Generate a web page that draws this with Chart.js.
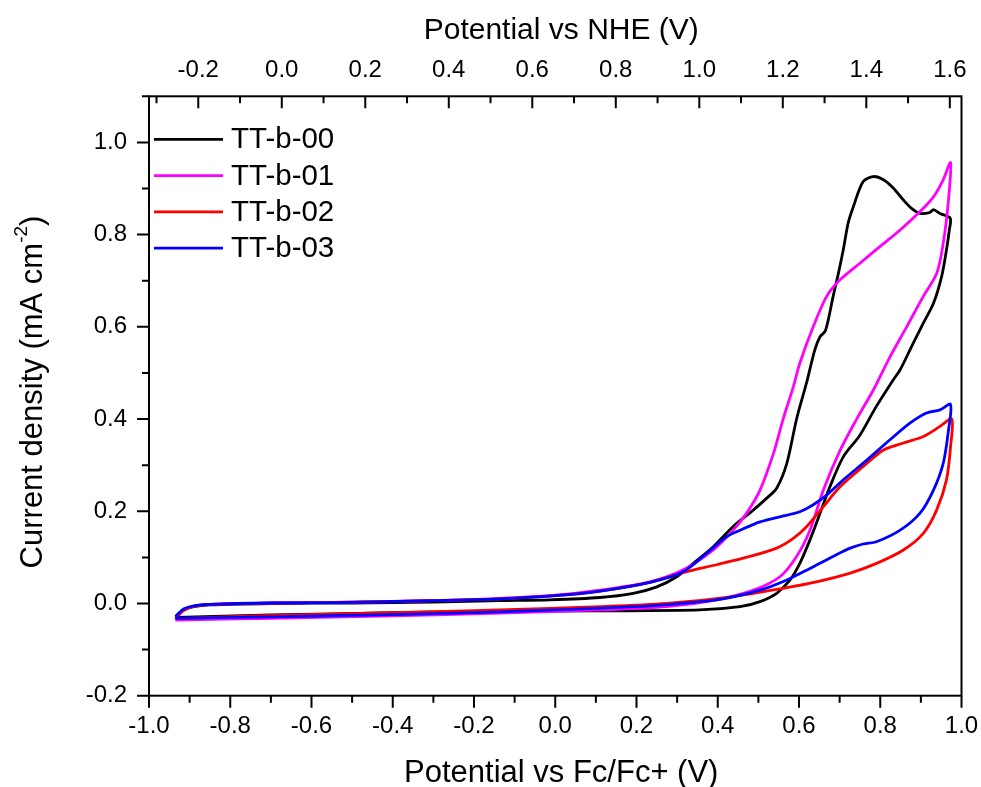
<!DOCTYPE html>
<html>
<head>
<meta charset="utf-8">
<title>Cyclic voltammograms TT-b</title>
<script src="https://cdn.jsdelivr.net/npm/chart.js@4.4.1/dist/chart.umd.min.js"></script>
<style>
  html, body { margin: 0; padding: 0; background: #fff; }
  #cv { display: block; }
</style>
</head>
<body>
<canvas id="cv" width="981" height="787"></canvas>
<script>
/* CV loops of the TT-b films: current density vs potential, two potential scales */
const FONT = '"Liberation Sans", Arial, sans-serif';

const seriesNames = ['TT-b-00', 'TT-b-01', 'TT-b-02', 'TT-b-03'];
const seriesColors = ['#000000', '#ff00ff', '#ff0000', '#0000ff'];

// potential (V vs Fc/Fc+) and current density (mA cm-2), loop runs left -> right tip -> back
const tt00V = [-0.932, -0.915, -0.89, -0.85, -0.70, -0.50, -0.30, -0.136, -0.013, 0.110, 0.192, 0.250, 0.299, 0.340, 0.389, 0.438, 0.488, 0.520, 0.545, 0.570, 0.594, 0.619, 0.639, 0.652, 0.664, 0.672, 0.684, 0.697, 0.709, 0.721, 0.734, 0.758, 0.783, 0.808, 0.832, 0.857, 0.877, 0.898, 0.922, 0.931, 0.947, 0.972,
  0.970, 0.963, 0.951, 0.931, 0.906, 0.877, 0.849, 0.832, 0.790, 0.750, 0.709, 0.676, 0.652, 0.627, 0.602, 0.578, 0.545, 0.504, 0.455, 0.356, 0.110, -0.136, -0.40, -0.70, -0.932];
const tt00J = [-0.030, -0.015, -0.007, -0.003, 0.000, 0.001, 0.003, 0.006, 0.008, 0.013, 0.022, 0.036, 0.058, 0.087, 0.123, 0.167, 0.203, 0.228, 0.250, 0.304, 0.400, 0.480, 0.550, 0.579, 0.590, 0.615, 0.666, 0.716, 0.767, 0.825, 0.861, 0.915, 0.926, 0.919, 0.901, 0.875, 0.857, 0.846, 0.848, 0.854, 0.846, 0.836,
  0.810, 0.767, 0.709, 0.651, 0.608, 0.557, 0.507, 0.485, 0.427, 0.365, 0.318, 0.253, 0.196, 0.138, 0.087, 0.051, 0.022, 0.004, -0.007, -0.014, -0.016, -0.017, -0.020, -0.025, -0.030];

const tt01V = [-0.935, -0.915, -0.89, -0.85, -0.70, -0.50, -0.30, -0.136, 0.000, 0.110, 0.233, 0.315, 0.389, 0.438, 0.471, 0.504, 0.537, 0.561, 0.586, 0.602, 0.635, 0.668, 0.701, 0.750, 0.799, 0.849, 0.898, 0.931, 0.955, 0.973,
  0.968, 0.955, 0.939, 0.906, 0.865, 0.824, 0.783, 0.742, 0.700, 0.660, 0.627, 0.594, 0.553, 0.488, 0.397, 0.274, 0.110, -0.136, -0.40, -0.70, -0.935];
const tt01J = [-0.032, -0.015, -0.006, -0.002, 0.001, 0.003, 0.006, 0.011, 0.018, 0.029, 0.047, 0.073, 0.116, 0.159, 0.196, 0.246, 0.325, 0.400, 0.470, 0.521, 0.600, 0.666, 0.702, 0.738, 0.774, 0.810, 0.850, 0.882, 0.919, 0.956,
  0.875, 0.781, 0.716, 0.666, 0.600, 0.535, 0.463, 0.400, 0.330, 0.246, 0.159, 0.102, 0.058, 0.029, 0.008, -0.007, -0.014, -0.021, -0.027, -0.032, -0.036];

const tt02V = [-0.935, -0.915, -0.89, -0.85, -0.70, -0.50, -0.30, -0.136, 0.000, 0.110, 0.233, 0.324, 0.397, 0.479, 0.545, 0.586, 0.619, 0.660, 0.701, 0.758, 0.808, 0.857, 0.906, 0.947, 0.976,
  0.973, 0.963, 0.939, 0.906, 0.857, 0.791, 0.726, 0.643, 0.561, 0.438, 0.274, 0.110, -0.136, -0.40, -0.70, -0.935];
const tt02J = [-0.032, -0.015, -0.006, -0.002, 0.001, 0.003, 0.006, 0.010, 0.017, 0.027, 0.046, 0.069, 0.084, 0.102, 0.120, 0.141, 0.167, 0.210, 0.253, 0.297, 0.333, 0.348, 0.362, 0.384, 0.400,
  0.340, 0.268, 0.203, 0.152, 0.116, 0.087, 0.066, 0.047, 0.033, 0.015, 0.000, -0.007, -0.014, -0.020, -0.026, -0.033];

const tt03V = [-0.935, -0.915, -0.89, -0.85, -0.70, -0.54, -0.30, -0.136, 0.000, 0.110, 0.233, 0.315, 0.373, 0.422, 0.455, 0.504, 0.553, 0.602, 0.635, 0.668, 0.709, 0.767, 0.824, 0.873, 0.914, 0.947, 0.973,
  0.968, 0.955, 0.931, 0.898, 0.849, 0.791, 0.758, 0.726, 0.684, 0.627, 0.570, 0.504, 0.397, 0.192, -0.136, -0.40, -0.70, -0.935];
const tt03J = [-0.028, -0.012, -0.005, -0.002, 0.001, 0.002, 0.006, 0.010, 0.017, 0.027, 0.046, 0.069, 0.109, 0.145, 0.159, 0.177, 0.188, 0.199, 0.214, 0.235, 0.268, 0.311, 0.355, 0.391, 0.413, 0.420, 0.432,
  0.376, 0.304, 0.246, 0.196, 0.159, 0.134, 0.129, 0.120, 0.102, 0.076, 0.051, 0.029, 0.008, -0.007, -0.018, -0.024, -0.029, -0.032];

// labelled ticks; minor ticks go halfway between
const fcTicks = [-1.0, -0.8, -0.6, -0.4, -0.2, 0.0, 0.2, 0.4, 0.6, 0.8, 1.0];
const nheTicks = [-0.2, 0.0, 0.2, 0.4, 0.6, 0.8, 1.0, 1.2, 1.4, 1.6];
const jTicks = [-0.2, 0.0, 0.2, 0.4, 0.6, 0.8, 1.0];
// NHE values at the left/right plot edges
const nheMin = -0.318;
const nheMax = 1.628;

const loops = [[tt00V, tt00J], [tt01V, tt01J], [tt02V, tt02J], [tt03V, tt03J]];

function withMinors(majors, min, max) {
  const step = majors[1] - majors[0];
  const out = [];
  const first = majors[0] - step / 2;
  if (first >= min - 1e-9) out.push({ value: first, minor: true });
  majors.forEach((v, i) => {
    out.push({ value: v });
    const mid = v + step / 2;
    if (i < majors.length - 1 || mid <= max + 1e-9) out.push({ value: mid, minor: true });
  });
  return out;
}

const tickLabel = (v, i, ticks) => (ticks[i].minor ? '' : v.toFixed(1));
const tickFont = { family: FONT, size: 24, lineHeight: 1 };
const noGrid = { display: false, drawTicks: false };

// fixed axis box sizes, no extra room for overhanging labels
const fitX = h => s => { s.height = h; s.paddingLeft = 0; s.paddingRight = 0; };
const fitY = w => s => { s.width = w; s.paddingTop = 0; s.paddingBottom = 0; };

const frameTicks = {
  id: 'frameTicks',
  afterDatasetsDraw(chart) {
    const { ctx, chartArea: a, scales } = chart;
    ctx.save();
    ctx.strokeStyle = '#000';
    ctx.lineWidth = 2;
    ctx.strokeRect(a.left, a.top, a.right - a.left, a.bottom - a.top);

    ctx.beginPath();
    scales.x.ticks.forEach(t => {
      const px = scales.x.getPixelForValue(t.value);
      ctx.moveTo(px, a.bottom);
      ctx.lineTo(px, a.bottom + (t.minor ? 7 : 12));
    });
    scales.x2.ticks.forEach(t => {
      const px = scales.x2.getPixelForValue(t.value);
      ctx.moveTo(px, a.top);
      ctx.lineTo(px, a.top + (t.minor ? 7 : 12));
    });
    scales.y.ticks.forEach(t => {
      const py = scales.y.getPixelForValue(t.value);
      ctx.moveTo(a.left, py);
      ctx.lineTo(a.left - (t.minor ? 7 : 12), py);
    });
    ctx.stroke();

    // axis titles for the two potential scales
    const midX = (a.left + a.right) / 2 + 6;
    ctx.fillStyle = '#000';
    ctx.textAlign = 'center';
    ctx.textBaseline = 'middle';
    ctx.font = '31px ' + FONT;
    ctx.fillText('Potential vs Fc/Fc+ (V)', midX, 773);
    ctx.font = '30px ' + FONT;
    ctx.fillText('Potential vs NHE (V)', midX, 31);

    // legend, top-left inside the frame
    ctx.textAlign = 'left';
    ctx.lineWidth = 2.8;
    ctx.font = '29.5px ' + FONT;
    chart.data.datasets.forEach((ds, i) => {
      const y = a.top + 43 + i * 36.3;
      ctx.strokeStyle = ds.borderColor;
      ctx.beginPath();
      ctx.moveTo(a.left + 5, y);
      ctx.lineTo(a.left + 74, y);
      ctx.stroke();
      ctx.fillText(ds.label, a.left + 82, y + 1);
    });

    // y title with superscript unit
    const main = 'Current density (mA cm', sup = '-2', tail = ')';
    const bigFont = '31px ' + FONT, smallFont = '19px ' + FONT;
    ctx.font = bigFont;
    const w1 = ctx.measureText(main).width, w3 = ctx.measureText(tail).width;
    ctx.font = smallFont;
    const w2 = ctx.measureText(sup).width;
    ctx.translate(33, (a.top + a.bottom) / 2 - 4);
    ctx.rotate(-Math.PI / 2);
    let x = -(w1 + w2 + w3) / 2;
    ctx.font = bigFont;
    ctx.fillText(main, x, 0);
    x += w1;
    ctx.font = smallFont;
    ctx.fillText(sup, x, -11);
    x += w2;
    ctx.font = bigFont;
    ctx.fillText(tail, x, 0);
    ctx.restore();
  }
};

new Chart(document.getElementById('cv'), {
  type: 'scatter',
  data: {
    datasets: loops.map(([v, j], i) => ({
      label: seriesNames[i],
      data: v.map((x, k) => ({ x, y: j[k] })),
      borderColor: seriesColors[i],
      backgroundColor: seriesColors[i],
      borderWidth: 2.8,
      showLine: true,
      tension: 0.3,
      pointRadius: 0,
      order: 4 - i,
      xAxisID: 'x',
      yAxisID: 'y',
    })),
  },
  options: {
    responsive: false,
    animation: false,
    devicePixelRatio: 1,
    layout: { padding: { right: 19.5 } },
    plugins: {
      legend: { display: false },
      tooltip: { enabled: false },
    },
    scales: {
      x: {
        type: 'linear',
        position: 'bottom',
        min: -1,
        max: 1,
        grid: noGrid,
        border: { display: false },
        afterBuildTicks: s => { s.ticks = withMinors(fcTicks, -1, 1); },
        afterFit: fitX(91.3),
        ticks: { font: tickFont, color: '#000', padding: 19, maxRotation: 0, autoSkip: false, callback: tickLabel },
      },
      x2: {
        type: 'linear',
        position: 'top',
        min: nheMin,
        max: nheMax,
        grid: noGrid,
        border: { display: false },
        afterBuildTicks: s => { s.ticks = withMinors(nheTicks, nheMin, nheMax); },
        afterFit: fitX(96.3),
        ticks: { font: tickFont, color: '#000', padding: 14, maxRotation: 0, autoSkip: false, callback: tickLabel },
      },
      y: {
        type: 'linear',
        position: 'left',
        min: -0.2,
        max: 1.1,
        grid: noGrid,
        border: { display: false },
        afterBuildTicks: s => { s.ticks = withMinors(jTicks, -0.2, 1.1); },
        afterFit: fitY(149),
        ticks: { font: tickFont, color: '#000', padding: 22, autoSkip: false, callback: tickLabel },
      },
    },
  },
  plugins: [frameTicks],
});
</script>
</body>
</html>
